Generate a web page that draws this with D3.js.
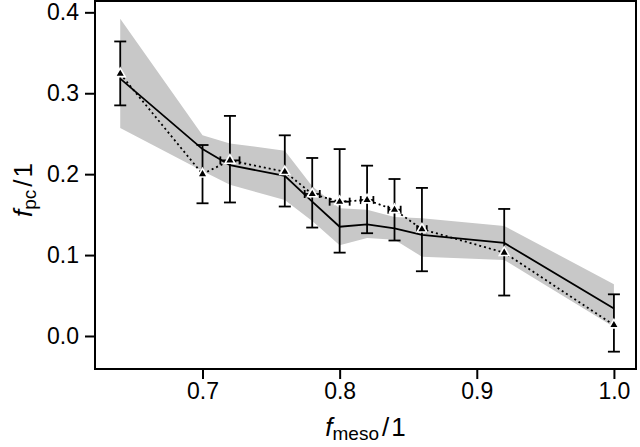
<!DOCTYPE html>
<html><head><meta charset="utf-8">
<script src="https://cdn.jsdelivr.net/npm/d3@7"></script>
<style>body{margin:0;background:#fff}</style>
</head><body><svg id="c" width="640" height="447"></svg>
<script>
const xVals = [0.64,0.70,0.72,0.76,0.78,0.80,0.82,0.84,0.86,0.92,1.00];
const fitVals = [0.318,0.231,0.211,0.198,0.166,0.135,0.138,0.133,0.125,0.115,0.034];
const bandUpper = [0.392,0.248,0.238,0.229,0.185,0.158,0.156,0.147,0.1455,0.136,0.064];
const bandLower = [0.257,0.204,0.187,0.168,0.142,0.112,0.121,0.119,0.098,0.094,0.011];
const ptVals = [0.324,0.200,0.217,0.203,0.1755,0.166,0.168,0.156,0.132,0.103,0.0136];
const errHi = [0.364,0.236,0.272,0.248,0.220,0.231,0.2105,0.194,0.183,0.157,0.0515];
const errLo = [0.285,0.164,0.165,0.160,0.134,0.103,0.127,0.118,0.080,0.050,-0.0194];
const xErr = [0,0,0.007,0,0.0055,0.0073,0.0046,0.0045,0.0035,0,0];
const xTicks = [0.7,0.8,0.9,1.0];
const yTicks = [0.0,0.1,0.2,0.3,0.4];

const L=95,R=636,T=1,B=369;
const svg = d3.select("#c");
const x = d3.scaleLinear().domain([0.6216,1.0161]).range([L,R]);
const y = d3.scaleLinear().domain([-0.0408,0.414]).range([B,T]);
const data = xVals.map((v,i)=>({x:v,fit:fitVals[i],hi:bandUpper[i],lo:bandLower[i],p:ptVals[i],eh:errHi[i],el:errLo[i],xe:xErr[i]}));

const g = svg.append("g");
g.append("path").datum(data)
 .attr("d", d3.area().x(d=>x(d.x)).y0(d=>y(d.lo)).y1(d=>y(d.hi)))
 .attr("fill","#c8c8c8");
g.append("path").datum(data)
 .attr("d", d3.line().x(d=>x(d.x)).y(d=>y(d.fit)))
 .attr("fill","none").attr("stroke","#000").attr("stroke-width",1.8);
g.append("path").datum(data)
 .attr("d", d3.line().x(d=>x(d.x)).y(d=>y(d.p)))
 .attr("fill","none").attr("stroke","#000").attr("stroke-width",1.8).attr("stroke-dasharray","2,3");

const eb = g.append("g").attr("stroke","#000").attr("stroke-width",1.8);
data.forEach(d=>{
  const cx=x(d.x);
  eb.append("line").attr("x1",cx).attr("x2",cx).attr("y1",y(d.eh)).attr("y2",y(d.el));
  eb.append("line").attr("x1",cx-6).attr("x2",cx+6).attr("y1",y(d.eh)).attr("y2",y(d.eh));
  eb.append("line").attr("x1",cx-6).attr("x2",cx+6).attr("y1",y(d.el)).attr("y2",y(d.el));
  if(d.xe>0){
    const cy=y(d.p), xa=x(d.x-d.xe), xb=x(d.x+d.xe);
    eb.append("line").attr("x1",xa).attr("x2",xb).attr("y1",cy).attr("y2",cy);
    eb.append("line").attr("x1",xa).attr("x2",xa).attr("y1",cy-4).attr("y2",cy+4);
    eb.append("line").attr("x1",xb).attr("x2",xb).attr("y1",cy-4).attr("y2",cy+4);
  }
});
g.selectAll("path.tri").data(data).join("path").attr("class","tri")
 .attr("d", d3.symbol(d3.symbolTriangle, 42))
 .attr("transform", d=>`translate(${x(d.x)},${y(d.p)})`)
 .attr("fill","#000").attr("stroke","#fff").attr("stroke-width",1.6);

// frame
svg.append("rect").attr("x",L).attr("y",T).attr("width",R-L).attr("height",B-T)
 .attr("fill","none").attr("stroke","#000").attr("stroke-width",2);

const font = "Liberation Sans, Arial, Helvetica, sans-serif";
const xa = svg.append("g").attr("transform",`translate(0,${B})`)
 .call(d3.axisBottom(x).tickValues(xTicks).tickFormat(d3.format(".1f")).tickSize(10).tickPadding(4));
const ya = svg.append("g").attr("transform",`translate(${L},0)`)
 .call(d3.axisLeft(y).tickValues(yTicks).tickFormat(d3.format(".1f")).tickSize(10).tickPadding(6));
[xa,ya].forEach(a=>{
  a.select(".domain").remove();
  a.selectAll("line").attr("stroke","#000").attr("stroke-width",2);
  a.selectAll("text").attr("fill","#000").style("font-family",font).style("font-size","23px");
});

const xt = svg.append("text").attr("x",(L+R)/2).attr("y",436).attr("text-anchor","middle")
 .style("font-family",font).style("font-size","26px").attr("fill","#000");
xt.append("tspan").text("f").style("font-style","italic");
xt.append("tspan").text("meso").style("font-size","19px").attr("dy",4);
xt.append("tspan").text("/").attr("dy",-4).attr("dx",3).style("font-weight","300");
xt.append("tspan").text("1").attr("dx",2);

const yt = svg.append("text").attr("transform",`translate(32,190) rotate(-90)`).attr("text-anchor","middle")
 .style("font-family",font).style("font-size","26px").attr("fill","#000");
yt.append("tspan").text("f").style("font-style","italic");
yt.append("tspan").text("pc").style("font-size","19px").attr("dy",4);
yt.append("tspan").text("/").attr("dy",-4).attr("dx",3).style("font-weight","300");
yt.append("tspan").text("1").attr("dx",2);
</script></body></html>
